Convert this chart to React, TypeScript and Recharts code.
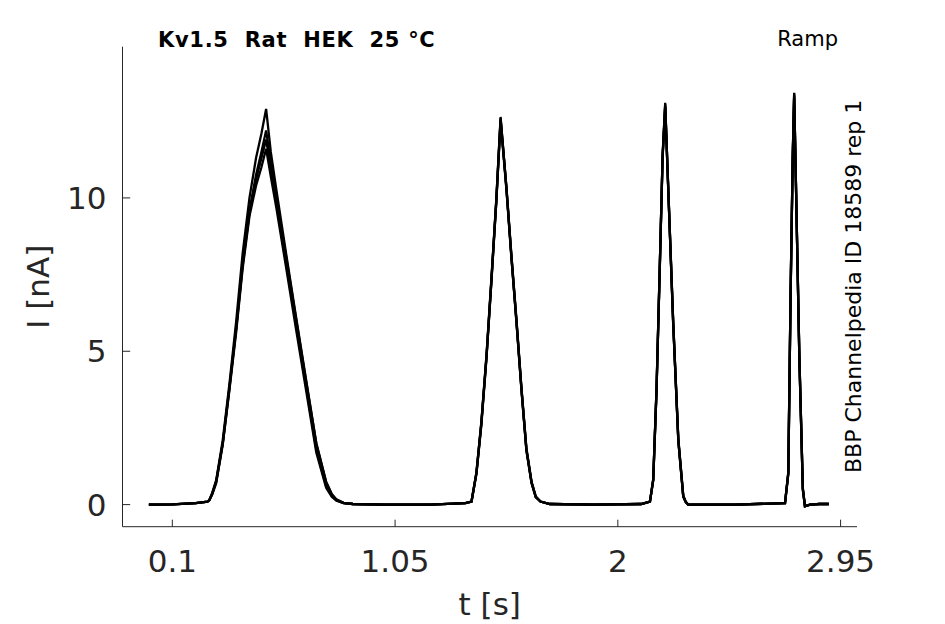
import React from 'react';
import { LineChart, Line, XAxis, YAxis, Customized } from 'recharts';

// sample times [s], shared by every sweep
const time = [
  0, 0.1, 0.2, 0.25, 0.258, 0.27, 0.287, 0.315, 0.343, 0.372, 0.4, 0.429, 0.457, 0.48, 0.5,
  0.52, 0.543, 0.586, 0.628, 0.671, 0.714, 0.756, 0.78, 0.8, 0.83, 0.87,
  1.0, 1.2, 1.35, 1.376, 1.397, 1.418, 1.44, 1.461, 1.482, 1.5, 1.525, 1.546, 1.568, 1.589,
  1.61, 1.632, 1.65, 1.67, 1.71,
  1.9, 2.1, 2.137, 2.151, 2.165, 2.18, 2.191, 2.202, 2.215, 2.236, 2.258, 2.279, 2.29, 2.3,
  2.5, 2.713, 2.727, 2.737, 2.746, 2.752, 2.76, 2.774, 2.789, 2.798, 2.82, 2.86, 2.9,
];

// current [nA] for each sweep
const sweep1 = [
  0, 0.01, 0.05, 0.1, 0.15, 0.35, 0.75, 2.0, 3.75, 5.7, 7.8, 9.5, 10.6, 11.3, 11.9,
  10.96, 9.87, 7.84, 5.86, 3.83, 1.8, 0.6, 0.28, 0.14, 0.05, 0.02,
  0, 0, 0.05, 0.1, 1.04, 2.67, 4.85, 7.35, 9.97, 12.64, 10.3, 8.1, 5.94, 3.76,
  1.8, 0.72, 0.25, 0.1, 0.02,
  0, 0.02, 0.1, 0.82, 3.76, 8.1, 11.4, 13.1, 10.3, 5.94, 2.1, 0.27, 0.08, 0,
  0, 0.05, 1.04, 7.0, 11.4, 13.43, 10.3, 4.85, 0.5, -0.05, 0, 0.02, 0.02,
];
const sweep2 = [
  0, 0.01, 0.05, 0.1, 0.15, 0.35, 0.75, 2.0, 3.8, 5.75, 7.85, 9.6, 10.75, 11.5, 12.2,
  11.15, 10.05, 8.05, 6.05, 4.0, 2.0, 0.75, 0.35, 0.17, 0.06, 0.02,
  0, 0, 0.05, 0.1, 1.0, 2.6, 4.8, 7.3, 9.9, 12.55, 10.35, 8.15, 6.0, 3.8,
  1.85, 0.75, 0.27, 0.1, 0.02,
  0, 0.02, 0.1, 0.8, 3.7, 8.0, 11.3, 13.0, 10.35, 6.0, 2.15, 0.3, 0.08, 0,
  0, 0.05, 1.0, 6.9, 11.3, 13.35, 10.35, 4.9, 0.55, -0.05, 0, 0.02, 0.02,
];
const sweep3 = [
  0, 0.01, 0.05, 0.1, 0.15, 0.38, 0.8, 2.1, 3.9, 5.95, 8.2, 10.0, 11.3, 12.1, 12.9,
  11.5, 10.3, 8.15, 6.1, 4.05, 2.0, 0.72, 0.33, 0.16, 0.06, 0.02,
  0, 0, 0.05, 0.1, 1.06, 2.7, 4.9, 7.4, 10.0, 12.6, 10.3, 8.1, 5.95, 3.78,
  1.8, 0.72, 0.25, 0.1, 0.02,
  0, 0.02, 0.1, 0.83, 3.78, 8.1, 11.4, 13.05, 10.3, 5.95, 2.1, 0.27, 0.08, 0,
  0, 0.05, 1.04, 7.0, 11.4, 13.4, 10.3, 4.85, 0.5, -0.05, 0, 0.02, 0.02,
];
const sweep4 = [
  0, 0.01, 0.05, 0.1, 0.14, 0.33, 0.7, 1.95, 3.7, 5.6, 7.7, 9.4, 10.4, 11.0, 11.6,
  10.7, 9.7, 7.7, 5.7, 3.7, 1.7, 0.55, 0.26, 0.13, 0.05, 0.02,
  0, 0, 0.05, 0.1, 1.02, 2.64, 4.82, 7.3, 9.92, 12.5, 10.25, 8.05, 5.9, 3.72,
  1.76, 0.7, 0.24, 0.1, 0.02,
  0, 0.02, 0.1, 0.8, 3.72, 8.05, 11.35, 12.95, 10.25, 5.9, 2.05, 0.26, 0.08, 0,
  0, 0.05, 1.02, 6.95, 11.35, 13.3, 10.25, 4.8, 0.48, -0.05, 0, 0.02, 0.02,
];

const sweeps = [sweep1, sweep2, sweep3, sweep4];
const xTicks = [0.1, 1.05, 2, 2.95];
const yTicks = [0, 5, 10];

const data = time.map((t, i) => {
  const row: Record<string, number> = { t };
  sweeps.forEach((s, k) => {
    row[`s${k}`] = s[i];
  });
  return row;
});

const FONT = 'DejaVu Sans';
const AXIS = '#262626';

const XTick = (props: any) => {
  const { x, y, payload } = props;
  return (
    <g>
      <line x1={x} x2={x} y1={y} y2={y - 7} stroke={AXIS} strokeWidth={1} />
      <text x={x} y={y + 45} textAnchor="middle" fontSize={31} fontFamily={FONT} fill={AXIS}>
        {payload.value}
      </text>
    </g>
  );
};

const YTick = (props: any) => {
  const { x, y, payload } = props;
  return (
    <g>
      <line x1={x} x2={x + 7.7} y1={y} y2={y} stroke={AXIS} strokeWidth={1} />
      <text x={x - 16} y={y + 11} textAnchor="end" fontSize={31} fontFamily={FONT} fill={AXIS}>
        {payload.value}
      </text>
    </g>
  );
};

const Annotations = () => (
  <g>
    <text
      x={158}
      y={47}
      fontSize={21}
      fontWeight="bold"
      letterSpacing={0.7}
      fontFamily={FONT}
      fill="#000"
      style={{ whiteSpace: 'pre' }}
    >
      {'Kv1.5  Rat  HEK  25 °C'}
    </text>
    <text x={838} y={46} textAnchor="end" fontSize={21} fontFamily={FONT} fill="#000">
      Ramp
    </text>
    <text
      x={861}
      y={473}
      transform="rotate(-90 861 473)"
      fontSize={22}
      fontFamily={FONT}
      fill="#000"
    >
      BBP Channelpedia ID 18589 rep 1
    </text>
  </g>
);

export default function App() {
  return (
    <div style={{ position: 'absolute', left: 0, top: 0, width: 945, height: 624, background: '#fff' }}>
      <LineChart
        width={945}
        height={624}
        data={data}
        margin={{ top: 46.7, right: 88, bottom: 37.3, left: 62.5 }}
      >
        <XAxis
          dataKey="t"
          type="number"
          domain={[-0.1125, 3.02]}
          ticks={xTicks}
          allowDataOverflow
          height={60}
          tickSize={0}
          tickMargin={0}
          tickLine={false}
          axisLine={{ stroke: AXIS, strokeWidth: 1 }}
          tick={<XTick />}
          label={{
            content: (p: any) => {
              const vb = p.viewBox;
              return (
                <text x={vb.x + vb.width / 2} y={vb.y + 88} textAnchor="middle" fontSize={31} fontFamily={FONT} fill={AXIS}>
                  t [s]
                </text>
              );
            },
          }}
        />
        <YAxis
          type="number"
          domain={[-0.72, 14.93]}
          ticks={yTicks}
          allowDataOverflow
          width={60}
          tickSize={0}
          tickMargin={0}
          tickLine={false}
          axisLine={{ stroke: AXIS, strokeWidth: 1 }}
          tick={<YTick />}
          label={{
            content: (p: any) => {
              const vb = p.viewBox;
              const cy = vb.y + vb.height / 2;
              return (
                <text x={49} y={cy} transform={`rotate(-90 49 ${cy})`} textAnchor="middle" fontSize={31} fontFamily={FONT} fill={AXIS}>
                  I [nA]
                </text>
              );
            },
          }}
        />
        {sweeps.map((_, k) => (
          <Line
            key={k}
            dataKey={`s${k}`}
            type="linear"
            stroke="#000"
            strokeWidth={2.3}
            dot={false}
            activeDot={false}
            isAnimationActive={false}
          />
        ))}
        <Customized component={Annotations} />
      </LineChart>
    </div>
  );
}
